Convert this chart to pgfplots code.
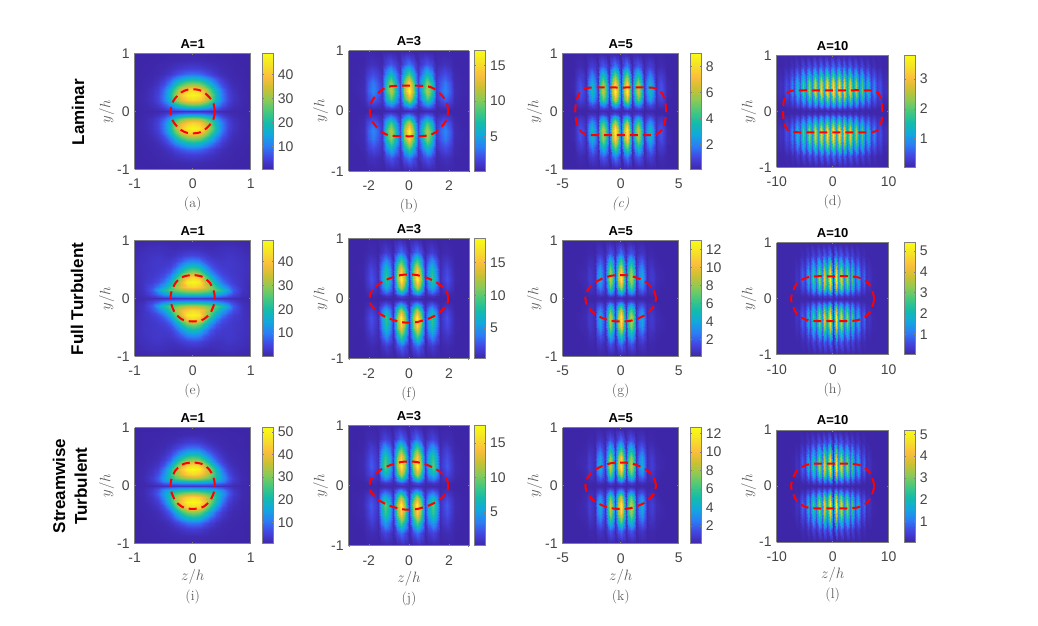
\documentclass[border=0pt]{standalone}
\usepackage{fix-cm}
\usepackage{fontspec}
\usepackage{pgfplots}
\usepackage{pgfplotstable}
\pgfplotsset{compat=1.18}
\newfontfamily\sans{Liberation Sans}
\definecolor{tc}{gray}{0.27}
\definecolor{lc}{gray}{0.36}
\pgfplotsset{colormap={parula}{rgb255(0cm)=(62,38,168) rgb255(1cm)=(68,68,225) rgb255(2cm)=(44,125,245) rgb255(3cm)=(18,168,222) rgb255(4cm)=(20,188,170) rgb255(5cm)=(70,200,125) rgb255(6cm)=(140,202,85) rgb255(7cm)=(205,192,50) rgb255(8cm)=(252,190,60) rgb255(9cm)=(245,225,40) rgb255(10cm)=(249,251,20)}}

% heatmaps: one quadrant each, first column y, header holds z/h
\pgfplotstableread[header=has colnames]{
y 0 0.1 0.2 0.3 0.4 0.5 0.6 0.7 0.85 1
0 2.5 2.4 2.2 2 1.7 1.2 .8 .6 .4 .3
.03 8 8 7 6 4.5 2.5 1.5 .9 .5 .3
.08 20 19 17 13.5 9 5 2.6 1.4 .6 .3
.14 33 32 28 22 14 8 4 2 .7 .3
.2 43 41 36 28 18 10 4.8 2.4 .8 .4
.28 48 46 40 30 19 10 4.8 2.4 .8 .4
.36 44 42 36 26 17 9 4 2 .7 .4
.45 32 30.5 26 19 11.5 6 3 1.4 .6 .3
.55 19 18 15 11 7 3.6 1.8 .9 .5 .3
.65 9 8.5 7 5 3 1.7 1 .6 .4 .3
.75 4 3.8 3.2 2.4 1.7 1.1 .8 .5 .4 .3
.87 1.5 1.4 1.2 1 .8 .6 .5 .4 .3 .3
1 .5 .5 .5 .4 .4 .4 .3 .3 .3 .3
}\tabA
\pgfplotstableread[header=has colnames]{
y 0 0.225 0.45 0.675 0.9 1.125 1.35 1.575 1.8 2.025 2.25 2.6 3
0 .5 .3 .2 .2 .4 .2 .2 .2 .2 .2 .2 .2 .2
.04 2 1.3 .3 1 1.4 1 .2 .4 .5 .4 .2 .2 .2
.1 6 3.8 .8 2.8 4.2 2.8 .5 1.1 1.4 1 .3 .2 .2
.2 12.2 7.8 1.4 5.6 8.7 5.6 .9 2.2 2.9 1.9 .5 .2 .2
.33 17 10.8 2 7.8 12 7.8 1.2 3 4 2.6 .6 .3 .2
.47 15 9.6 1.8 6.8 10.6 6.8 1.1 2.6 3.5 2.3 .5 .3 .2
.62 9 5.8 1.1 4.1 6.4 4.1 .7 1.6 2.1 1.4 .4 .2 .2
.78 3.4 2.2 .5 1.6 2.4 1.6 .3 .6 .8 .6 .2 .2 .2
1 .2 .2 .2 .2 .2 .2 .2 .2 .2 .2 .2 .2 .2
}\tabB
\pgfplotstableread[header=has colnames]{
y 0 0.25 0.5 0.75 1 1.25 1.5 1.75 2 2.25 2.5 2.75 3 3.25 3.5 3.75 4 4.5 5
0 .2 .2 .3 .2 .2 .2 .3 .2 .1 .1 .2 .1 .1 .1 .1 .1 .1 .1 .1
.04 .2 .7 1.1 .7 .2 .6 .8 .6 .1 .4 .4 .4 .1 .1 .2 .1 .1 .1 .1
.1 .3 2.2 3.2 2.2 .3 1.6 2.3 1.6 .2 .8 1.2 .8 .2 .4 .5 .4 .1 .1 .1
.2 .5 4.3 6.5 4.3 .5 3.2 4.7 3.2 .4 1.7 2.5 1.7 .3 .7 .9 .6 .1 .1 .1
.33 .8 6 9 6 .8 4.4 6.5 4.4 .6 2.4 3.5 2.4 .4 1 1.3 .8 .2 .1 .1
.47 .7 5.4 8 5.4 .7 4 5.8 4 .5 2.2 3.1 2.2 .3 .8 1.2 .7 .2 .1 .1
.62 .5 3.5 5.2 3.5 .4 2.5 3.7 2.5 .3 1.3 2 1.3 .2 .6 .7 .5 .1 .1 .1
.78 .2 1.3 2 1.3 .2 1 1.4 1 .2 .6 .8 .6 .1 .2 .3 .2 .1 .1 .1
1 .1 .1 .1 .1 .1 .1 .1 .1 .1 .1 .1 .1 .1 .1 .1 .1 .1 .1 .1
}\tabC
\pgfplotstableread[header=has colnames]{
y 0 0.525 1.05 1.575 2.1 2.625 3.15 3.675 4.2 4.725 5.25 5.775 6.3 6.825 7.35 7.875 8.4 8.925 9.45 10
0 .1 .05 .1 .05 .1 .05 .1 .05 .1 .05 .1 .05 .05 .05 .05 .05 .05 .05 .05 .05
.04 .4 .13 .4 .12 .3 .11 .3 .1 .26 .08 .2 .06 .15 .05 .09 .05 .05 .05 .05 .05
.1 1.1 .4 1.1 .4 1 .3 .9 .3 .8 .24 .6 .18 .45 .12 .27 .09 .15 .05 .06 .05
.2 2.3 .8 2.2 .7 2 .7 1.9 .6 1.6 .5 1.3 .4 .9 .25 .56 .19 .3 .09 .12 .06
.35 3.7 1.3 3.6 1.2 3.3 1.1 3.1 1 2.6 .8 2.1 .6 1.5 .4 .9 .3 .5 .15 .2 .1
.5 3.4 1.2 3.3 1.1 3 1 2.9 .9 2.4 .7 1.9 .55 1.4 .37 .83 .28 .46 .14 .18 .09
.65 2 .7 2 .66 1.8 .6 1.7 .55 1.4 .44 1.2 .33 .8 .22 .5 .17 .28 .08 .11 .06
.8 .74 .26 .72 .24 .66 .22 .62 .2 .52 .16 .42 .12 .3 .08 .18 .06 .1 .05 .05 .05
1 .1 .05 .1 .05 .1 .05 .1 .05 .05 .05 .05 .05 .05 .05 .05 .05 .05 .05 .05 .05
}\tabD
\pgfplotstableread[header=has colnames]{
y 0 0.1 0.2 0.3 0.4 0.5 0.6 0.7 0.85 1
0 3 3 3 3 2.5 2.2 1.8 1.5 1.2 .8
.03 9 9 8.5 8 7 6 4.5 3 1.5 .8
.08 21 21 20 18.5 16 13 9 5.5 2 1
.14 33 32 30 27 25 20 14 7 2.5 1
.2 43 41 37 30 22 15 10 6 2.5 1
.28 48 46 36 25 16 9.5 6 4 2.5 1.2
.36 43 40 29 19 11 6.5 4.5 3.5 2.5 1.4
.45 30 27 20 12 7 4.5 3.7 3 2.5 1.5
.55 19 17 12 7 4.3 3.5 3.3 3 2.5 1.5
.65 11 10 7 4.5 3.2 3 3.2 3 2.3 1.4
.75 5 4.5 3.5 2.5 2.2 2.4 2.8 2.6 2 1.2
.87 1.8 1.7 1.5 1.3 1.5 1.8 2 1.9 1.4 .9
1 .6 .6 .6 .6 .7 .8 .9 .8 .6 .4
}\tabE
\pgfplotstableread[header=has colnames]{
y 0 0.2 0.4 0.6 0.775 0.95 1.15 1.35 1.525 1.7 1.9 2.1 2.3 2.6 3
0 .3 .6 .7 .4 .3 .3 .4 .3 .3 .3 .3 .3 .3 .3 .3
.04 .4 1.3 2.2 1.3 .3 .7 1.1 .6 .3 .4 .4 .4 .3 .3 .3
.1 .6 4 6.5 4 .5 2 3.2 1.9 .4 .7 1 .6 .3 .3 .3
.2 .8 8.2 13.5 8.2 .9 4.2 6.5 4 .6 1.2 1.9 1.1 .3 .3 .3
.33 1.2 11.4 18.7 11.4 1.2 5.8 9 5.4 .8 1.7 2.6 1.4 .4 .3 .3
.47 1.1 9.8 16 9.8 1.1 4.9 7.7 4.7 .7 1.4 2.2 1.2 .4 .3 .3
.62 .8 6 9.9 6 .7 3 4.8 2.9 .5 1 1.3 .8 .3 .3 .3
.78 .4 2.2 3.5 2.2 .4 1.1 1.7 1 .3 .5 .6 .4 .3 .3 .3
1 .3 .3 .4 .3 .3 .3 .3 .3 .3 .3 .3 .3 .3 .3 .3
}\tabF
\pgfplotstableread[header=has colnames]{
y 0 0.22 0.45 0.67 0.9 1.12 1.35 1.57 1.8 2.02 2.25 2.45 2.7 3 3.5 4 5
0 .4 .2 .1 .2 .3 .2 .1 .1 .2 .1 .1 .1 .1 .1 .1 .1 .1
.04 1.6 1 .2 .7 1.1 .7 .1 .4 .5 .4 .1 .1 .2 .1 .1 .1 .1
.1 4.5 3 .4 2.2 3.3 2.2 .3 1.1 1.5 1 .2 .4 .4 .2 .1 .1 .1
.2 9.4 6 .7 4.4 6.8 4.3 .5 2.2 3 2 .3 .6 .7 .3 .1 .1 .1
.33 13 8.4 1 6.2 9.5 6 .7 3 4.2 2.8 .4 .8 1 .4 .2 .1 .1
.47 11.3 7.3 .9 5.4 8.2 5.2 .6 2.6 3.7 2.4 .3 .7 .9 .3 .2 .1 .1
.62 7 4.4 .6 3.4 5.1 3.2 .4 1.6 2.2 1.4 .2 .5 .5 .2 .1 .1 .1
.78 2.5 1.6 .3 1.2 1.8 1.2 .2 .6 .8 .6 .1 .2 .2 .1 .1 .1 .1
1 .1 .1 .1 .1 .1 .1 .1 .1 .1 .1 .1 .1 .1 .1 .1 .1 .1
}\tabG
\pgfplotstableread[header=has colnames]{
y 0 0.5 1 1.5 2 2.5 3 3.5 4 4.5 5 5.5 6 6.5 7 8 10
0 .05 .15 .05 .13 .05 .1 .05 .08 .05 .05 .05 .05 .05 .05 .05 .05 .05
.04 .05 .6 .2 .5 .15 .45 .12 .34 .08 .2 .05 .1 .05 .05 .05 .05 .05
.1 .07 1.9 .6 1.5 .45 1.3 .35 1 .25 .6 .14 .3 .07 .1 .05 .05 .05
.2 .14 3.9 1.3 3.2 .9 2.7 .7 2 .5 1.3 .27 .6 .14 .2 .07 .05 .05
.33 .2 5.4 1.8 4.4 1.3 3.7 1 2.8 .7 1.8 .4 .9 .2 .3 .1 .05 .05
.47 .17 4.7 1.6 3.8 1.1 3.2 .9 2.4 .6 1.6 .34 .8 .17 .26 .09 .05 .05
.62 .1 2.9 .95 2.3 .7 2 .53 1.5 .38 .95 .2 .47 .1 .16 .06 .05 .05
.78 .05 1 .35 .85 .25 .7 .2 .55 .13 .35 .08 .17 .05 .06 .05 .05 .05
1 .05 .05 .05 .05 .05 .05 .05 .05 .05 .05 .05 .05 .05 .05 .05 .05 .05
}\tabH
\pgfplotstableread[header=has colnames]{
y 0 0.1 0.2 0.3 0.4 0.5 0.6 0.7 0.85 1
0 3 3 3 3 2.7 2.4 1.8 1.3 .8 .6
.03 9 9 9 8 7 6 4 2.4 1.1 .6
.08 22 21 20 18 16 12.5 7 3.5 1.2 .6
.14 35 34 31 27 21 14.5 8 4 1.3 .7
.2 46 44 39 31 22 13 6.5 3.2 1.2 .6
.28 52 50 42 31 20 10.5 4.5 2.5 1 .6
.36 46 44 35 24 14 7 3.2 1.8 .9 .6
.45 32 30 24 15.5 8.5 4.3 2 1.3 .8 .6
.55 20 18.5 14 9 5 2.6 1.5 1 .7 .5
.65 10 9.5 7 4.5 2.6 1.5 1 .8 .6 .5
.75 4.5 4 3 2 1.4 1 .8 .7 .6 .5
.87 1.5 1.4 1.2 1 .9 .8 .7 .7 .6 .5
1 .6 .6 .6 .6 .6 .6 .5 .5 .5 .5
}\tabI
\pgfplotstableread[header=has colnames]{
y 0 0.2 0.4 0.6 0.775 0.95 1.2 1.4 1.55 1.7 1.9 2.1 2.3 2.6 3
0 .2 .5 .6 .4 .2 .3 .4 .3 .1 .2 .2 .2 .1 .1 .1
.04 .3 1.3 2.1 1.3 .3 .7 1.1 .7 .2 .4 .4 .2 .1 .1 .1
.1 .5 3.8 6.1 3.8 .5 2.2 3.3 2 .4 .7 1 .6 .2 .1 .1
.2 .8 7.7 12.6 7.7 .9 4.3 6.8 4.1 .6 1.2 1.9 1.1 .3 .2 .1
.33 1 10.8 17.5 10.8 1.2 6 9.5 5.6 .8 1.7 2.6 1.4 .4 .2 .1
.47 1 9.4 15 9.4 1.1 5.2 8.2 4.8 .7 1.4 2.2 1.2 .3 .2 .1
.62 .7 5.8 9.3 5.8 .7 3.1 5 3 .4 1 1.4 .7 .2 .1 .1
.78 .3 2 3.3 2 .3 1.1 1.8 1.1 .2 .4 .5 .4 .1 .1 .1
1 .1 .2 .2 .2 .1 .1 .2 .1 .1 .1 .1 .1 .1 .1 .1
}\tabJ
\pgfplotstableread[header=has colnames]{
y 0 0.22 0.45 0.67 0.9 1.12 1.35 1.57 1.8 2.02 2.25 2.45 2.7 3 3.5 4 5
0 .4 .2 .1 .2 .3 .2 .1 .1 .2 .1 .1 .1 .1 .1 .1 .1 .1
.04 1.5 1 .2 .7 1.1 .7 .1 .4 .5 .4 .1 .1 .2 .1 .1 .1 .1
.1 4.4 3 .4 2.2 3.3 2.2 .3 1.1 1.5 1 .2 .4 .4 .2 .1 .1 .1
.2 9.1 6 .7 4.4 6.8 4.3 .5 2.2 3.1 2 .3 .6 .8 .3 .1 .1 .1
.33 12.6 8.4 1 6.2 9.5 6 .7 3 4.3 2.9 .4 .8 1.1 .4 .2 .1 .1
.47 11 7.3 .9 5.4 8.2 5.2 .6 2.6 3.7 2.5 .3 .7 1 .3 .2 .1 .1
.62 6.8 4.4 .6 3.4 5.1 3.2 .4 1.6 2.3 1.6 .2 .5 .6 .2 .1 .1 .1
.78 2.4 1.6 .3 1.2 1.8 1.2 .2 .6 .8 .6 .1 .2 .2 .1 .1 .1 .1
1 .1 .1 .1 .1 .1 .1 .1 .1 .1 .1 .1 .1 .1 .1 .1 .1 .1
}\tabK
\pgfplotstableread[header=has colnames]{
y 0 0.5 1 1.5 2 2.5 3 3.5 4 4.5 5 5.5 6 6.5 7 8 10
0 .06 .15 .06 .13 .06 .1 .06 .08 .06 .06 .06 .06 .06 .06 .06 .06 .06
.04 .06 .6 .2 .5 .15 .43 .12 .32 .08 .2 .06 .1 .06 .06 .06 .06 .06
.1 .07 1.8 .6 1.5 .45 1.25 .35 .95 .25 .6 .14 .3 .07 .1 .06 .06 .06
.2 .14 3.7 1.2 3.1 .9 2.6 .7 1.9 .5 1.3 .27 .6 .14 .2 .07 .06 .06
.33 .2 5.2 1.7 4.3 1.3 3.6 1 2.7 .7 1.8 .4 .9 .2 .3 .1 .06 .06
.47 .17 4.5 1.5 3.7 1.1 3.1 .9 2.3 .6 1.6 .34 .8 .17 .26 .09 .06 .06
.62 .1 2.8 .9 2.3 .7 1.9 .53 1.4 .38 .95 .2 .47 .1 .16 .06 .06 .06
.78 .06 1 .33 .83 .25 .7 .2 .52 .13 .35 .08 .17 .06 .06 .06 .06 .06
1 .06 .06 .06 .06 .06 .06 .06 .06 .06 .06 .06 .06 .06 .06 .06 .06 .06
}\tabL

% dashed contours: quarter of the closed curve
\pgfplotstableread{
x y
.38 0
.36 .13
.29 .24
.19 .33
.1 .37
0 .38
}\ringA
\pgfplotstableread{
x y
1.95 0
1.9 .12
1.73 .22
1.35 .35
.9 .41
0 .42
}\ringB
\pgfplotstableread{
x y
3.92 0
3.85 .15
3.6 .3
3.2 .38
2.5 .41
0 .41
}\ringC
\pgfplotstableread{
x y
8.85 0
8.75 .17
8.3 .3
7.6 .36
6 .375
0 .375
}\ringD
\pgfplotstableread{
x y
.38 0
.37 .1
.3 .26
.19 .36
.1 .39
0 .4
}\ringE
\pgfplotstableread{
x y
1.95 0
1.9 .1
1.5 .24
1 .33
.4 .39
0 .4
}\ringF
\pgfplotstableread{
x y
3.05 0
2.85 .14
2.3 .26
1.7 .33
.8 .39
0 .4
}\ringG
\pgfplotstableread{
x y
7.45 0
7.1 .13
6.4 .27
4.9 .37
3 .4
0 .4
}\ringH

% unfold a quadrant table to the whole mesh
\newcommand\buildheat[1]{%
  \pgfplotstablegetrowsof{#1}\pgfmathtruncatemacro\rlast{\pgfplotsretval-1}%
  \pgfplotstablegetcolsof{#1}\pgfmathtruncatemacro\clast{\pgfplotsretval-2}%
  \pgfmathtruncatemacro\meshcols{2*\clast+1}%
  \gdef\heatbody{}%
  \foreach \sr in {-\rlast,...,\rlast}{%
    \pgfmathtruncatemacro\ir{abs(\sr)}%
    \pgfplotstablegetelem{\ir}{[index]0}\of{#1}\let\yy\pgfplotsretval
    \foreach \sc in {-\clast,...,\clast}{%
      \pgfmathtruncatemacro\ic{abs(\sc)+1}%
      \pgfplotstablegetcolumnnamebyindex{\ic}\of{#1}\to\xx
      \pgfplotstablegetelem{\ir}{[index]\ic}\of{#1}%
      \xdef\heatbody{\heatbody(\ifnum\sc<0 -\fi\xx,\ifnum\sr<0 -\fi\yy,\pgfplotsretval)}%
    }%
  }%
}
\newcommand\ringpart[5]{% table, first row, step, last row, signs
  \foreach \ir in {#2,#3,...,#4}{%
    \pgfplotstablegetelem{\ir}{x}\of{#1}\let\xx\pgfplotsretval
    \pgfplotstablegetelem{\ir}{y}\of{#1}\let\yy\pgfplotsretval
    \xdef\ringbody{\ringbody(#5)}%
  }%
}
\newcommand\buildring[1]{%
  \gdef\ringbody{}%
  \ringpart{#1}{0}{1}{5}{\xx,\yy,0}%
  \ringpart{#1}{4}{3}{0}{-\xx,\yy,0}%
  \ringpart{#1}{1}{2}{5}{-\xx,-\yy,0}%
  \ringpart{#1}{4}{3}{0}{\xx,-\yy,0}%
}

\pgfplotsset{
  hm/.style={
    scale only axis, view={0}{90}, colormap name=parula, colorbar,
    ymin=-1, ymax=1, ytick={-1,0,1}, yticklabels={-1,0,1}, ztick=\empty,
    axis on top, tick align=inside, major tick length=1.5pt,
    axis line style={draw=black!50,line width=.7pt}, tick style={draw=black!50,line width=.5pt},
    tick label style={font=\sans\fontsize{14}{14}\selectfont,text=tc},
    xticklabel style={yshift=-6pt}, yticklabel style={xshift=-1.5pt},
    title style={font=\sans\bfseries\fontsize{13}{13}\selectfont,at={(0.5,1)},anchor=south,yshift=-4.5pt},
    every axis y label/.style={at={(axis description cs:0,0.5)},xshift=-28pt,rotate=90,anchor=center},
    ylabel={\fontsize{15}{15}\selectfont\color{lc}$y/h$},
    colorbar style={
      at={(parent axis.north east)}, anchor=north west,
      width=11pt, xtick=\empty, tick align=inside, major tick length=1.5pt,
      axis line style={draw=black!50,line width=.7pt}, tick style={draw=black!50,line width=.5pt},
      yticklabel pos=right,
      yticklabel style={font=\sans\fontsize{14}{14}\selectfont,text=tc,xshift=1pt},
    },
  },
  xa/.style={xmin=-1,xmax=1,xtick={-1,0,1},xticklabels={-1,0,1},colorbar shift/.style={xshift=11.7pt}},
  xb/.style={xmin=-3,xmax=3,xtick={-2,0,2},xticklabels={-2,0,2},colorbar shift/.style={xshift=5.3pt}},
  xc/.style={xmin=-5,xmax=5,xtick={-5,0,5},xticklabels={-5,0,5},colorbar shift/.style={xshift=11.6pt}},
  xd/.style={xmin=-10,xmax=10,xtick={-10,0,10},xticklabels={-10,0,10},colorbar shift/.style={xshift=15.6pt}},
  cb/.style n args={3}{point meta min=#1,point meta max=#2,colorbar style={ytick={#3},yticklabels={#3}}},
}

% table, ring, options, left, top, size, title, letter
\def\lo{35}
\newcommand\panel[8]{%
  \buildheat{#1}\buildring{#2}%
  \begin{axis}[hm,#3,at={(#4pt,625pt-#5pt-#6pt)},anchor=south west,width=#6pt,height=#6pt,title={#7}]
    \edef\tmp{\noexpand\addplot3[surf,shader=interp,mesh/cols=\meshcols] coordinates {\heatbody};}\tmp
    \edef\tmp{\noexpand\addplot3[red,line width=2pt,dash pattern=on 8pt off 5pt,smooth] coordinates {\ringbody};}\tmp
  \end{axis}%
  \node[text=lc,font=\fontsize{14}{14}\selectfont] at (#4pt+0.5*#6pt,625pt-#5pt-#6pt-\lo pt) {#8};%
}
\newcommand\lowerz[3]{\node[text=lc] at (#1pt+0.5*#2pt,625pt-#3pt-#2pt-33pt) {\fontsize{15}{15}\selectfont$z/h$};}

\begin{document}
\begin{tikzpicture}
\useasboundingbox (0,0) rectangle (1038pt,625pt);
\panel{\tabA}{\ringA}{xa,cb={0.3}{49}{10,20,30,40}}{134.7}{53.3}{116}{A=1}{(a)}
\panel{\tabB}{\ringB}{xb,cb={0.14}{17.1}{5,10,15}}{348.7}{50.7}{120.5}{A=3}{(b)}
\panel{\tabC}{\ringC}{xc,cb={0.1}{9}{2,4,6,8}}{562.7}{53.3}{116}{A=5}{\textit{(c)}}
\panel{\tabD}{\ringD}{xd,cb={0.04}{3.8}{1,2,3}}{776.7}{55.3}{112}{A=10}{(d)}
\panel{\tabE}{\ringE}{xa,cb={0.3}{48.9}{10,20,30,40}}{134.7}{240.3}{116}{A=1}{(e)}
\panel{\tabF}{\ringF}{xb,cb={0.3}{18.7}{5,10,15}}{348.7}{238.3}{120.5}{A=3}{(f)}
\panel{\tabG}{\ringG}{xc,cb={0.1}{13}{2,4,6,8,10,12}}{562.7}{240.3}{116}{A=5}{(g)}
\panel{\tabH}{\ringH}{xd,cb={0.02}{5.4}{1,2,3,4,5}}{776.7}{242.7}{112}{A=10}{(h)}
\def\lo{53}
\panel{\tabI}{\ringE}{xa,cb={0.5}{51.8}{10,20,30,40,50}}{134.7}{427.7}{116}{A=1}{(i)}
\panel{\tabJ}{\ringF}{xb,cb={0.1}{17.6}{5,10,15}}{348.7}{425.3}{120.5}{A=3}{(j)}
\panel{\tabK}{\ringG}{xc,cb={0.1}{12.6}{2,4,6,8,10,12}}{562.7}{427.7}{116}{A=5}{(k)}
\panel{\tabL}{\ringH}{xd,cb={0.06}{5.2}{1,2,3,4,5}}{776.7}{430}{112}{A=10}{(l)}
\lowerz{134.7}{116}{427.7}
\lowerz{348.7}{120.5}{425.3}
\lowerz{562.7}{116}{427.7}
\lowerz{776.7}{112}{430}
\node[rotate=90,font=\sans\bfseries\fontsize{17}{17}\selectfont] at (78pt,625pt-112pt) {Laminar};
\node[rotate=90,font=\sans\bfseries\fontsize{17}{17}\selectfont] at (77pt,625pt-299pt) {Full Turbulent};
\node[rotate=90,align=center,font=\sans\bfseries\fontsize{17}{21.7}\selectfont] at (70pt,625pt-486pt) {Streamwise\\Turbulent};
\end{tikzpicture}
\end{document}
